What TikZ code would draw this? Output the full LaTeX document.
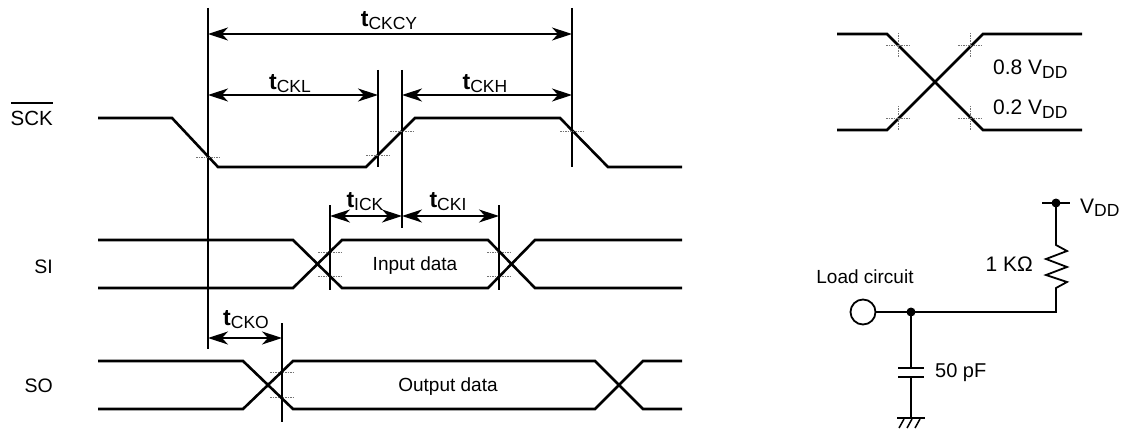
\documentclass[tikz,border=0pt]{standalone}
\usepackage{fontspec}
\setmainfont{Liberation Sans}
\usetikzlibrary{arrows.meta}
\newcommand\mytl[1]{{\fontsize{23}{23}\selectfont\bfseries t}{\fontsize{17.5}{17.5}\selectfont\raisebox{-3pt}{#1}}}
\newcommand\myvdd{V{\fontsize{17.5}{17.5}\selectfont\raisebox{-3.5pt}{DD}}}
\begin{document}
\begin{tikzpicture}[x=1pt,y=-1pt,
  wave/.style={line width=2.6pt},
  refline/.style={line width=1.8pt},
  dimline/.style={line width=1.3pt,{Stealth[length=20pt,width=13pt,inset=6pt]}-{Stealth[length=20pt,width=13pt,inset=6pt]}},
  tickmark/.style={line width=0.9pt,dash pattern=on 1.5pt off 1pt,black!55},
  lbl/.style={font=\fontsize{19}{19}\selectfont,inner sep=0pt},
  wire/.style={line width=1.8pt}]
\useasboundingbox (0,0) rectangle (1127,433);

% ---------------- SCK ----------------
\draw[wave] (98,118) -- (172,118) -- (218,167) -- (366,167) -- (415,118) -- (560,118) -- (608,167) -- (682,167);
% reference lines
\coordinate (a1) at (208,8);   \coordinate (a2) at (208,349);
\coordinate (b1) at (378,70);  \coordinate (b2) at (378,167);
\coordinate (c1) at (402,70);  \coordinate (c2) at (402,228);
\coordinate (d1) at (572,8);   \coordinate (d2) at (572,167);
\coordinate (e1) at (330,205); \coordinate (e2) at (330,290);
\coordinate (f1) at (499,205); \coordinate (f2) at (499,290);
\coordinate (g1) at (282,323); \coordinate (g2) at (282,422);
\foreach \p in {a,b,c,d,e,f,g} \draw[refline] (\p1) -- (\p2);
% ticks
\draw[tickmark] (196,157) -- (221,157);
\draw[tickmark] (366,155) -- (391,155);
\draw[tickmark] (390,131) -- (415,131);
\draw[tickmark] (560,131) -- (585,131);
\draw[tickmark] (318,252) -- (343,252);
\draw[tickmark] (318,276) -- (343,276);
\draw[tickmark] (487,252) -- (512,252);
\draw[tickmark] (487,276) -- (512,276);
\draw[tickmark] (270,372) -- (295,372);
\draw[tickmark] (270,397) -- (295,397);

% dimension arrows
\draw[dimline] (208,34) -- (572,34);
\draw[dimline] (208,95) -- (378,95);
\draw[dimline] (402,95) -- (572,95);
\draw[dimline] (330,216) -- (402,216);
\draw[dimline] (402,216) -- (499,216);
\draw[dimline] (208,338) -- (282,338);
\node[lbl,anchor=base] (tcy) at (389,27) {\mytl{CKCY}};
\node[lbl,anchor=base] (tckl) at (290,90) {\mytl{CKL}};
\node[lbl,anchor=base] (tckh) at (485,90) {\mytl{CKH}};
\node[lbl,anchor=base] (tick) at (365,207) {\mytl{ICK}};
\node[lbl,anchor=base] (tcki) at (448,207) {\mytl{CKI}};
\node[lbl,anchor=base] (tcko) at (246,325) {\mytl{CKO}};

% ---------------- SI ----------------
\draw[wave] (98,240) -- (293,240) -- (342,288) -- (488,288) -- (535,240) -- (682,240);
\draw[wave] (98,288) -- (293,288) -- (342,240) -- (488,240) -- (535,288) -- (682,288);
% ---------------- SO ----------------
\draw[wave] (98,361) -- (243,361) -- (293,409) -- (595,409) -- (643,361) -- (682,361);
\draw[wave] (98,409) -- (243,409) -- (293,361) -- (595,361) -- (643,409) -- (682,409);

\node[lbl,font=\fontsize{20.5}{20.5}\selectfont,anchor=base east] (sck) at (53,126) {SCK};
\draw[line width=1.3pt] (11,103) -- (53,103);
\node[lbl,font=\fontsize{19.5}{19.5}\selectfont,anchor=base east] (si) at (53,273) {SI};
\node[lbl,font=\fontsize{19.5}{19.5}\selectfont,anchor=base east] (so) at (53,392) {SO};
\node[lbl,anchor=base] (ind) at (415,270) {Input data};
\node[lbl,anchor=base] (outd) at (448,391) {Output data};

% ---------------- level diagram ----------------
\draw[wave] (837,34) -- (887,34) -- (983,130) -- (1082,130);
\draw[wave] (837,130) -- (887,130) -- (983,34) -- (1082,34);
\foreach \x/\y in {898/45,970/45,898/118,970/118}{
  \draw[tickmark] (\x-12,\y) -- (\x+12,\y);
  \draw[tickmark] (\x,\y-12) -- (\x,\y+12);
}
\node[lbl,font=\fontsize{21}{21}\selectfont,anchor=base west] (v8) at (993,75) {0.8 \myvdd};
\node[lbl,font=\fontsize{21}{21}\selectfont,anchor=base west] (v2) at (993,115) {0.2 \myvdd};

% ---------------- load circuit ----------------
\coordinate (vdd) at (1056,203);
\coordinate (rtop) at (1056,245);
\coordinate (rbot) at (1056,288);
\coordinate (corner) at (1056,312);
\coordinate (junc) at (911,312);
\coordinate (cp1) at (911,368);
\coordinate (cp2) at (911,377);
\coordinate (gnd) at (911,418);
\draw[wire] (1042,203) -- (1070,203);
\draw[wire] (vdd) -- (rtop) -- (1067,251) -- (1046,259) -- (1067,267) -- (1046,275) -- (1067,282) -- (rbot) -- (corner) -- (junc);
\node[circle,draw,line width=1.8pt,minimum size=25pt,inner sep=0pt] (inp) at (863,312) {};
\draw[wire] (inp) -- (junc);
\fill (vdd) circle (4.5pt);
\fill (junc) circle (4.5pt);
\draw[wire] (junc) -- (cp1);
\draw[wire] (898,368) -- (924,368);
\draw[wire] (898,377) -- (924,377);
\draw[wire] (cp2) -- (gnd);
\draw[wire] (897,418) -- (925,418);
\foreach \x in {904,912,920} \draw[line width=1.5pt] (\x,419) -- (\x-5,428);
\node[lbl,font=\fontsize{21}{21}\selectfont,anchor=base west] (vddl) at (1080,213) {\myvdd};
\node[lbl,font=\fontsize{21}{21}\selectfont,anchor=base east] (rl) at (1033,271) {1 KΩ};
\node[lbl,font=\fontsize{20}{20}\selectfont,anchor=base west] (cl) at (935,377) {50 pF};
\node[lbl,anchor=base] (ll) at (865,283) {Load circuit};
\end{tikzpicture}
\end{document}
